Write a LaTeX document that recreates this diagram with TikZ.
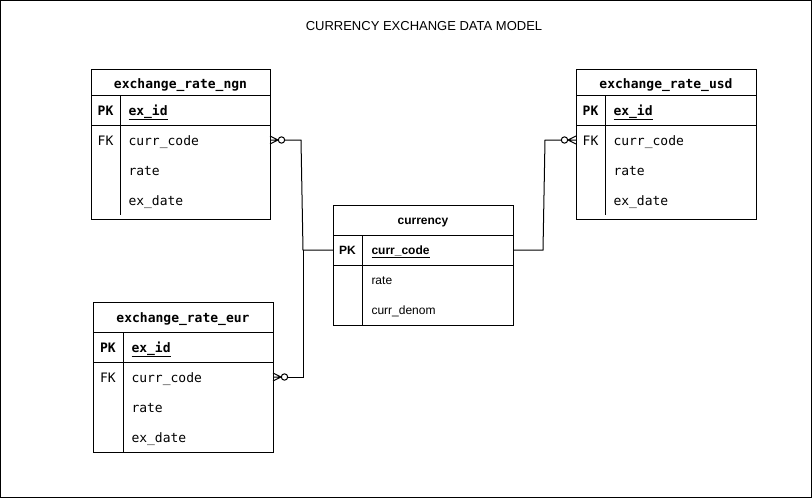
\documentclass[tikz,border=0pt]{standalone}
\usepackage{fontspec}
\setmainfont{Liberation Sans}
\newfontfamily\erMono{DejaVu Sans Mono}
\begin{document}
\begin{tikzpicture}[x=1pt,y=-1pt,line width=1pt,
  tbl/.style={draw,anchor=north west,inner sep=0pt,outer sep=0pt},
  mtitle/.style={anchor=mid,inner sep=0pt,yshift=-2.5pt,font=\fontsize{13}{15}\selectfont\erMono\bfseries},
  mkey/.style={anchor=mid,inner sep=0pt,yshift=-2.5pt,font=\fontsize{13}{15}\selectfont\erMono\bfseries},
  mfk/.style={anchor=mid,inner sep=0pt,yshift=-2.5pt,font=\fontsize{13}{15}\selectfont\erMono},
  mfield/.style={anchor=mid west,inner sep=0pt,yshift=-2.5pt,font=\fontsize{13}{15}\selectfont\erMono},
  mid/.style={anchor=mid west,inner sep=0pt,yshift=-2.5pt,font=\fontsize{13}{15}\selectfont\erMono\bfseries},
  spk/.style={anchor=mid,inner sep=0pt,yshift=-2pt,font=\fontsize{12}{14}\selectfont\bfseries},
  sid/.style={anchor=mid west,inner sep=0pt,yshift=-2pt,font=\fontsize{12}{14}\selectfont\bfseries},
  sfield/.style={anchor=mid west,inner sep=0pt,yshift=-2pt,font=\fontsize{12}{14}\selectfont},
  conn/.style={draw,line width=1pt},
  zmany/.pic={\draw (0,-4) -- (8,0) -- (0,4) (0,0) -- (8,0); \draw (11.5,0) circle[radius=3.2pt];}
]
\useasboundingbox (0,0) rectangle (812,498);
\draw (0.5,0.5) rectangle (811.5,497.5);

\node[anchor=base,inner sep=0pt,font=\fontsize{13}{15}\selectfont] (title) at (424,30) {CURRENCY EXCHANGE DATA MODEL};

% ---------- exchange_rate_ngn ----------
\node[tbl,minimum width=179pt,minimum height=150pt] (ngn) at (91,69) {};
\draw (91,95) -- (270,95);
\draw (91,125) -- (270,125);
\draw (120,95) -- (120,215);
\node[mtitle] (ngnt) at (180.5,83) {exchange\_rate\_ngn};
\node[mkey] (ngnpk) at (105.5,110) {PK};
\node[mid] (ngnid) at (128,110) {\underline{ex\_id}};
\node[mfk] (ngnfk) at (105.5,140) {FK};
\node[mfield] (ngncc) at (128,140) {curr\_code};
\node[mfield] (ngnrate) at (128,170) {rate};
\node[mfield] (ngndate) at (128,200) {ex\_date};

% ---------- exchange_rate_usd ----------
\node[tbl,minimum width=180pt,minimum height=150pt] (usd) at (576,69) {};
\draw (576,95) -- (756,95);
\draw (576,125) -- (756,125);
\draw (605,95) -- (605,215);
\node[mtitle] (usdt) at (666,83) {exchange\_rate\_usd};
\node[mkey] (usdpk) at (590.5,110) {PK};
\node[mid] (usdid) at (613,110) {\underline{ex\_id}};
\node[mfk] (usdfk) at (590.5,140) {FK};
\node[mfield] (usdcc) at (613,140) {curr\_code};
\node[mfield] (usdrate) at (613,170) {rate};
\node[mfield] (usddate) at (613,200) {ex\_date};

% ---------- currency ----------
\node[tbl,minimum width=180pt,minimum height=120pt] (cur) at (333,205) {};
\draw (333,235) -- (513,235);
\draw (333,265) -- (513,265);
\draw (362,235) -- (362,325);
\node[spk] (curt) at (423,220) {currency};
\node[spk] (curpk) at (347.5,250) {PK};
\node[sid] (curcc) at (371,250) {\underline{curr\_code}};
\node[sfield] (currate) at (371,280) {rate};
\node[sfield] (curden) at (371,310) {curr\_denom};

% ---------- exchange_rate_eur ----------
\node[tbl,minimum width=180pt,minimum height=150pt] (eur) at (93,302) {};
\draw (93,332) -- (273,332);
\draw (93,362) -- (273,362);
\draw (123,332) -- (123,452);
\node[mtitle] (eurt) at (183,317.5) {exchange\_rate\_eur};
\node[mkey] (eurpk) at (108,347) {PK};
\node[mid] (eurid) at (131,347) {\underline{ex\_id}};
\node[mfk] (eurfk) at (108,377) {FK};
\node[mfield] (eurcc) at (131,377) {curr\_code};
\node[mfield] (eurrate) at (131,407) {rate};
\node[mfield] (eurdate) at (131,437) {ex\_date};

% ---------- crow's feet ----------
\pic at (270,140) {zmany};
\pic at (273,377) {zmany};
\pic[rotate=180] at (576,140) {zmany};

% ---------- connector points ----------
\coordinate (ngnend) at (284.7,140);
\coordinate (eurend) at (287.7,377);
\coordinate (usdend) at (561.3,140);
\coordinate (curw) at (333,250);
\coordinate (cure) at (513,250);
\coordinate (j1) at (301,140);
\coordinate (j2) at (303,250);
\coordinate (j3) at (303,377);
\coordinate (j4) at (543,250);
\coordinate (j5) at (545,140);

\draw[conn] (ngnend) -- (j1) -- (j2) -- (curw);
\draw[conn] (eurend) -- (j3) -- (j2);
\draw[conn] (cure) -- (j4) -- (j5) -- (usdend);
\end{tikzpicture}
\end{document}
